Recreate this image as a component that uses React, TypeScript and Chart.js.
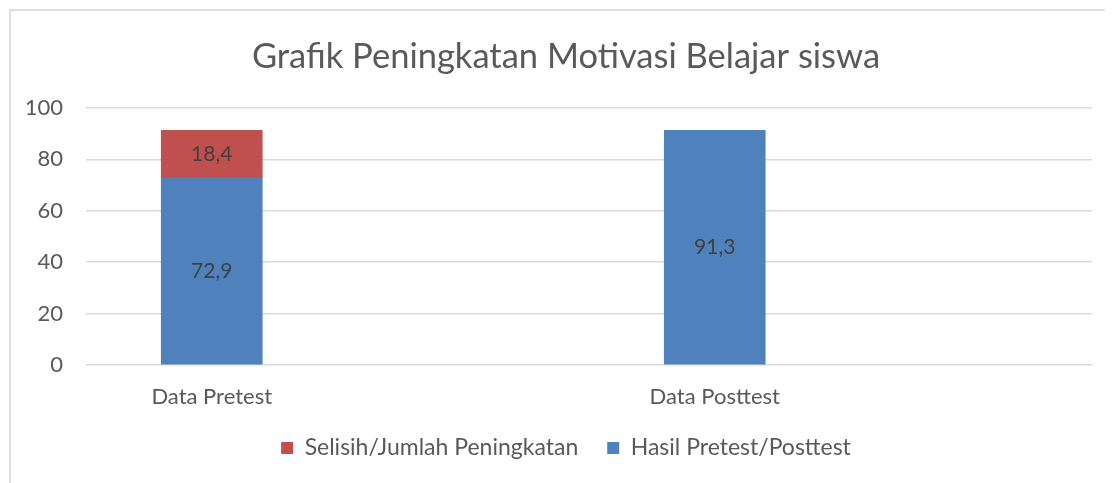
import React, { useEffect, useRef } from "react";
import { Chart, registerables } from "chart.js";

Chart.register(...registerables);

const categories = ["Data Pretest", "Data Posttest"];
const hasilValues = [72.9, 91.3];
const selisihValues: (number | null)[] = [18.4, null];
const yTicks = [0, 20, 40, 60, 80, 100];
const titleText = "Grafik Peningkatan Motivasi Belajar siswa";
const seriesNames = ["Hasil Pretest/Posttest", "Selisih/Jumlah Peningkatan"];

const FONT = "Lato";
const TEXT = "#595959";

const dataLabelPlugin = {
  id: "dataLabels",
  afterDatasetsDraw(chart: any) {
    const ctx = chart.ctx;
    ctx.save();
    ctx.font = `21px ${FONT}`;
    ctx.fillStyle = "#404040";
    ctx.textAlign = "center";
    ctx.textBaseline = "middle";
    chart.data.datasets.forEach((ds: any, di: number) => {
      const meta = chart.getDatasetMeta(di);
      meta.data.forEach((el: any, i: number) => {
        const v = ds.data[i]?.y;
        if (v === null || v === undefined || v === 0) return;
        const p = el.getCenterPoint();
        ctx.fillText(String(v).replace(".", ","), p.x, p.y);
      });
    });
    ctx.restore();
  },
};

export default function App() {
  const ref = useRef<HTMLCanvasElement>(null);
  useEffect(() => {
    if (!ref.current) return;
    const chart = new Chart(ref.current, {
      type: "bar",
      data: {
        datasets: [
          {
            label: seriesNames[0],
            data: hasilValues.map((v, i) => ({ x: i, y: v })),
            backgroundColor: "#4F81BD",
            barThickness: 101,
          },
          {
            label: seriesNames[1],
            data: selisihValues.map((v, i) => ({ x: i, y: v })),
            backgroundColor: "#C0504D",
            barThickness: 101,
          },
        ] as any,
      },
      options: {
        animation: false,
        responsive: false,
        maintainAspectRatio: false,
        layout: { padding: { left: 0, right: 0, top: 0, bottom: 13.5 } },
        plugins: {
          title: {
            display: true,
            text: titleText,
            color: TEXT,
            font: { family: FONT, size: 34.5, weight: "normal" },
            padding: { top: 25, bottom: 30.6 },
          },
          legend: {
            position: "bottom",
            reverse: true,
            labels: {
              color: TEXT,
              font: { family: FONT, size: 23 },
              boxWidth: 12,
              boxHeight: 12,
              padding: 29,
            },
          },
          tooltip: { enabled: false },
        },
        scales: {
          x: {
            type: "linear",
            stacked: true,
            offset: false,
            min: -0.25,
            max: 1.75,
            grid: { display: false, drawTicks: false },
            border: { display: false },
            afterBuildTicks: (scale: any) => {
              scale.ticks = categories.map((_, i) => ({ value: i }));
            },
            afterFit: (scale: any) => {
              scale.height = 42.5;
            },
            ticks: {
              color: TEXT,
              font: { family: FONT, size: 22 },
              padding: 19,
              maxRotation: 0,
              callback: (v: any) => categories[v] ?? "",
            },
          },
          y: {
            stacked: true,
            min: 0,
            max: 100,
            grid: { color: "#D9D9D9", lineWidth: 1.5, drawTicks: false },
            border: { display: false },
            afterBuildTicks: (scale: any) => {
              scale.ticks = yTicks.map((v) => ({ value: v }));
            },
            afterFit: (scale: any) => {
              scale.width = 75;
            },
            ticks: {
              color: TEXT,
              font: { family: FONT, size: 22 },
              padding: 23,
            },
          },
          yRight: {
            position: "right",
            min: 0,
            max: 100,
            grid: { display: false, drawTicks: false },
            border: { display: false },
            ticks: { display: false },
            afterFit: (scale: any) => {
              scale.width = 29;
            },
          },
        },
      } as any,
      plugins: [dataLabelPlugin],
    });
    return () => chart.destroy();
  }, []);
  return (
    <div
      style={{
        marginLeft: 1,
        marginTop: 1,
        borderLeft: "2px solid #DEDEDE",
        borderTop: "2px solid #DEDEDE",
        width: 1102,
        height: 472,
        overflow: "hidden",
        background: "#fff",
      }}
    >
      <canvas ref={ref} width={1110} height={472} style={{ display: "block" }} />
    </div>
  );
}
